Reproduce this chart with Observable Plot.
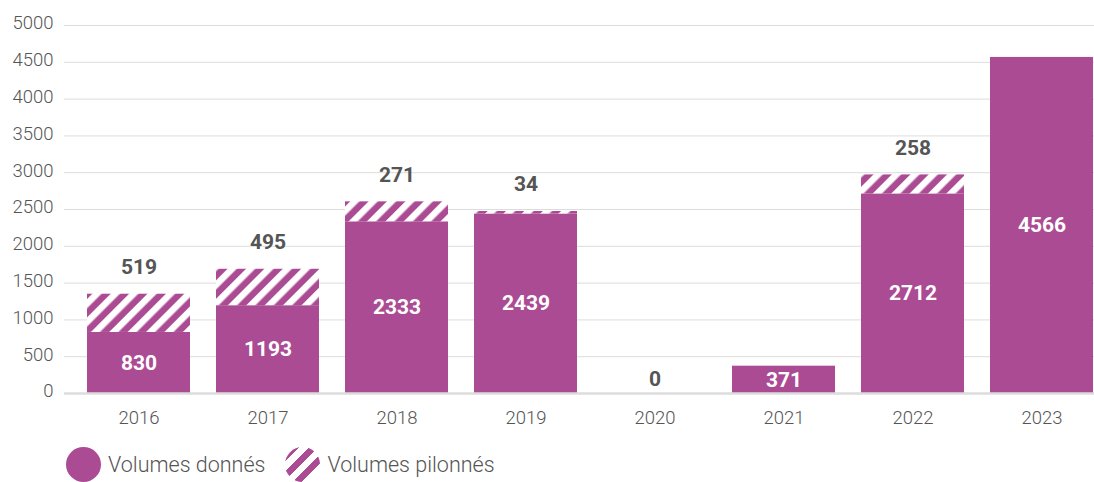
<!DOCTYPE html>
<html>
<head>
<meta charset="utf-8">
<script src="https://cdn.jsdelivr.net/npm/d3@7"></script>
<script src="https://cdn.jsdelivr.net/npm/@observablehq/plot@0.6"></script>
<style>
  body { margin: 0; background: #fff; font-family: Roboto, "Noto Sans", sans-serif; }
  #legend { display: flex; align-items: center; height: 48px; padding-left: 66px; color: #555; font-size: 21.5px; font-weight: 300; }
  .item { display: flex; align-items: center; margin-right: 20px; }
  .sw { width: 35px; height: 35px; border-radius: 50%; margin-right: 7px; }
</style>
</head>
<body>
<div id="chart"></div>
<div id="legend"></div>
<script>
const years = ["2016", "2017", "2018", "2019", "2020", "2021", "2022", "2023"];
const donnes = [830, 1193, 2333, 2439, 0, 371, 2712, 4566];
const pilonnes = [519, 495, 271, 34, null, null, 258, null];
const yTicks = [0, 500, 1000, 1500, 2000, 2500, 3000, 3500, 4000, 4500, 5000];
const seriesNames = ["Volumes donnés", "Volumes pilonnés"];

const purple = "#ab4b93";
const rows = years.map((y, i) => ({year: y, donnes: donnes[i], pilonnes: pilonnes[i]}));

const plot = Plot.plot({
  width: 1094,
  height: 440,
  marginLeft: 64,
  marginRight: 0,
  marginTop: 25,
  marginBottom: 47,
  style: {fontFamily: "Roboto, 'Noto Sans', sans-serif", background: "#fff"},
  x: {type: "band", domain: years, range: [87, 1094], paddingInner: 0.2, paddingOuter: 0},
  y: {domain: [0, 5000]},
  marks: [
    Plot.ruleY(yTicks.filter(d => d > 0), {stroke: "#dcdcdc", strokeWidth: 1}),
    Plot.axisY(yTicks, {tickSize: 0, tickPadding: 11, fontSize: 18.5, fontWeight: 300, fill: "#555", dy: -2, tickFormat: d => String(d), label: null}),
    Plot.axisX({tickSize: 0, tickPadding: 17, fontSize: 18.5, fontWeight: 300, fill: "#555", label: null}),
    Plot.barY(rows, {x: "year", y1: 0, y2: "donnes", fill: purple}),
    Plot.barY(rows.filter(d => d.pilonnes), {x: "year", y1: "donnes", y2: d => d.donnes + d.pilonnes, fill: "url(#hatch)"}),
    Plot.ruleY([0], {stroke: "#dcdcdc", strokeWidth: 2.5}),
    Plot.text(rows.filter(d => d.donnes > 0), {x: "year", y: d => d.donnes / 2, text: d => String(d.donnes), fill: "#fff", fontSize: 21, fontWeight: "bold"}),
    Plot.text(rows.filter(d => d.donnes === 0), {x: "year", y: 0, text: d => String(d.donnes), fill: "#555", fontSize: 21, fontWeight: "bold", dy: -14}),
    Plot.text(rows.filter(d => d.pilonnes), {x: "year", y: d => d.donnes + d.pilonnes, text: d => String(d.pilonnes), fill: "#555", fontSize: 21, fontWeight: "bold", dy: -27})
  ]
});

const ns = "http://www.w3.org/2000/svg";
const defs = document.createElementNS(ns, "defs");
defs.innerHTML = `<pattern id="hatch" patternUnits="userSpaceOnUse" width="13" height="13" patternTransform="rotate(45)">
  <rect width="13" height="13" fill="${purple}"></rect>
  <rect width="6.5" height="13" fill="#fff"></rect>
</pattern>`;
plot.insertBefore(defs, plot.firstChild);
document.getElementById("chart").appendChild(plot);

const legend = document.getElementById("legend");
seriesNames.forEach((name, i) => {
  const item = document.createElement("div");
  item.className = "item";
  const sw = document.createElement("div");
  sw.className = "sw";
  sw.style.background = i === 0 ? purple :
    `repeating-linear-gradient(-45deg, ${purple} 0 6.5px, #fff 6.5px 13px)`;
  const t = document.createElement("span");
  t.textContent = name;
  item.appendChild(sw);
  item.appendChild(t);
  legend.appendChild(item);
});
</script>
</body>
</html>
